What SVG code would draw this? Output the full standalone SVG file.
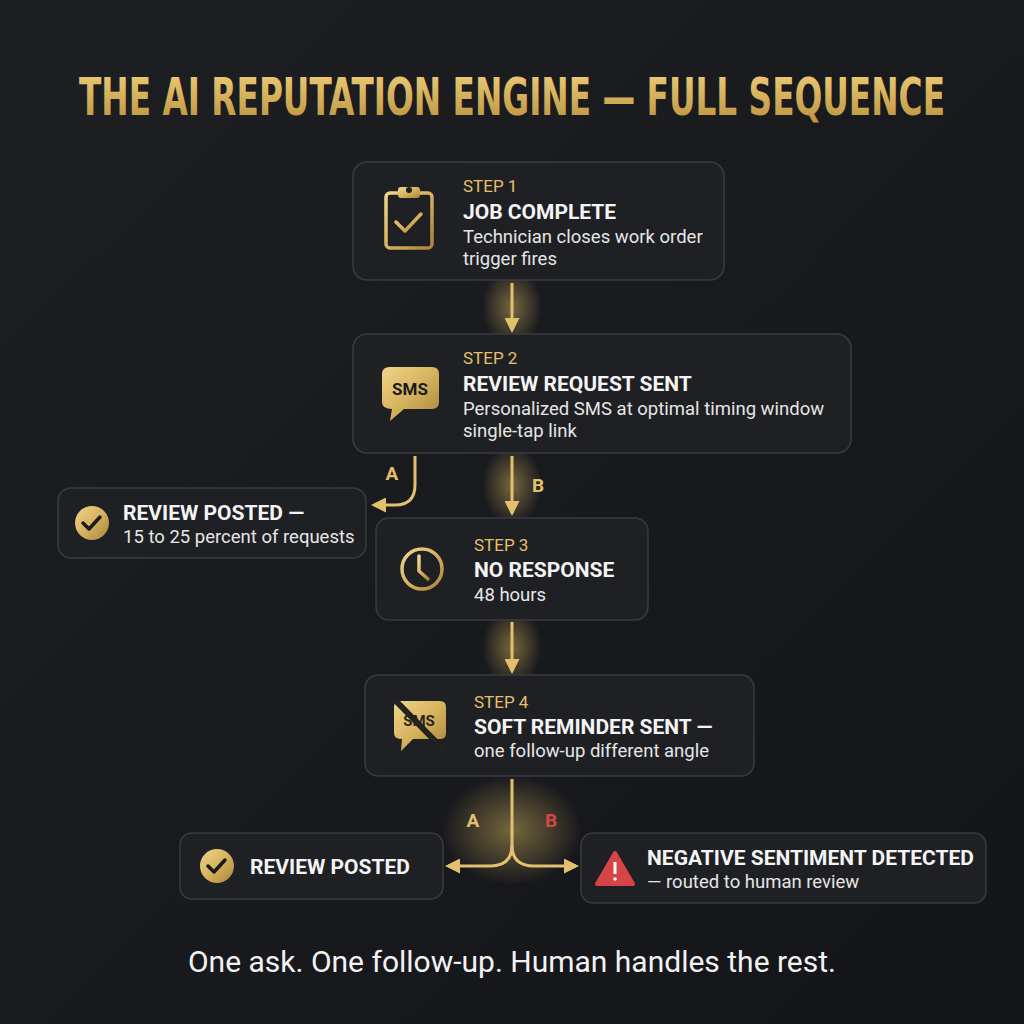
<svg xmlns="http://www.w3.org/2000/svg" width="1024" height="1024" viewBox="0 0 1024 1024">
<defs>
<linearGradient id="bg" x1="0" y1="0" x2="1" y2="1"><stop offset="0" stop-color="#1e1f23"/><stop offset="1" stop-color="#141518"/></linearGradient>
<linearGradient id="gold" x1="0" y1="0" x2="1" y2="1"><stop offset="0" stop-color="#f1d58a"/><stop offset="0.5" stop-color="#d6b35e"/><stop offset="1" stop-color="#a9843a"/></linearGradient>
<linearGradient id="title" x1="0" y1="0" x2="0" y2="1"><stop offset="0" stop-color="#f0d07a"/><stop offset="1" stop-color="#b98f3c"/></linearGradient>
<radialGradient id="glow"><stop offset="0" stop-color="#e8c567" stop-opacity="0.45"/><stop offset="1" stop-color="#e8c567" stop-opacity="0"/></radialGradient>
<marker id="ah" viewBox="0 0 10 10" refX="8" refY="5" markerWidth="5" markerHeight="5" orient="auto-start-reverse"><path d="M0,0 L10,5 L0,10 z" fill="#e3c06c"/></marker>
<style>
.box{fill:#1f2024;stroke:#3a3b40;stroke-width:1.5}
.step{font-family:Roboto,"Liberation Sans",sans-serif;font-size:17px;fill:#e3c06c}
.head{font-family:Roboto,"Liberation Sans",sans-serif;font-weight:bold;font-size:21px;fill:#f4f4f4}
.sub{font-family:Roboto,"Liberation Sans",sans-serif;font-size:18.5px;fill:#e6e6e6}
.lbl{font-family:Roboto,"Liberation Sans",sans-serif;font-weight:bold;font-size:19px;fill:#e3c06c}
.con{fill:none;stroke:#e3c06c;stroke-width:3;marker-end:url(#ah)}
.ic{fill:none;stroke:url(#gold);stroke-width:3.5;stroke-linecap:round;stroke-linejoin:round}
</style>
</defs>
<rect width="1024" height="1024" fill="url(#bg)"/>
<text x="512" y="115" text-anchor="middle" font-family="'DejaVu Sans Condensed','Liberation Sans Narrow',sans-serif" font-weight="bold" font-size="52" fill="url(#title)" textLength="866" lengthAdjust="spacingAndGlyphs">THE AI REPUTATION ENGINE — FULL SEQUENCE</text>

<g id="glows">
<ellipse cx="512" cy="307" rx="30" ry="40" fill="url(#glow)"/>
<ellipse cx="512" cy="485" rx="30" ry="40" fill="url(#glow)"/>
<ellipse cx="512" cy="647" rx="30" ry="40" fill="url(#glow)"/>
<ellipse cx="512" cy="830" rx="70" ry="55" fill="url(#glow)"/>
</g>

<g id="connectors">
<path class="con" d="M512,283 V330"/>
<path class="con" d="M512,456 V513"/>
<path class="con" d="M415,456 V485 Q415,505 395,505 H374"/>
<path class="con" d="M512,622 V671"/>
<path class="con" d="M512,779 V845 Q512,866 490,866 H448"/>
<path class="con" d="M512,845 Q512,866 534,866 H576"/>
<text class="lbl" x="392" y="480" text-anchor="middle">A</text>
<text class="lbl" x="538" y="492" text-anchor="middle">B</text>
<text class="lbl" x="473" y="827" text-anchor="middle">A</text>
<text class="lbl" x="551" y="827" text-anchor="middle" style="fill:#d64545">B</text>
</g>

<g id="step1">
<rect class="box" x="353" y="162" width="371" height="118" rx="14"/>
<rect class="ic" x="386" y="193" width="46" height="55" rx="4"/>
<rect x="398" y="187" width="22" height="11" rx="3" fill="url(#gold)"/>
<circle cx="409" cy="190" r="3" fill="#1f2024"/>
<path class="ic" d="M396,222 L405,231 L421,214"/>
<text class="step" x="463" y="192">STEP 1</text>
<text class="head" x="463" y="219">JOB COMPLETE</text>
<text class="sub" x="463" y="243">Technician closes work order</text>
<text class="sub" x="463" y="265">trigger fires</text>
</g>

<g id="step2">
<rect class="box" x="353" y="334" width="498" height="119" rx="14"/>
<path d="M390,367 H432 Q439,367 439,374 V402 Q439,409 432,409 H404 L390,421 L392,409 Q382,409 382,402 V374 Q382,367 390,367 Z" fill="url(#gold)"/>
<text x="410" y="395" text-anchor="middle" font-family="Roboto,'Liberation Sans',sans-serif" font-weight="bold" font-size="17" fill="#1a1a1a">SMS</text>
<text class="step" x="463" y="364">STEP 2</text>
<text class="head" x="463" y="391">REVIEW REQUEST SENT</text>
<text class="sub" x="463" y="415">Personalized SMS at optimal timing window</text>
<text class="sub" x="463" y="437">single-tap link</text>
</g>

<g id="review-posted-1">
<rect class="box" x="58" y="488" width="308" height="70" rx="13"/>
<circle cx="92" cy="523" r="17" fill="url(#gold)"/>
<path d="M83,523 L89,529 L100,517" fill="none" stroke="#1a1a1a" stroke-width="3.5" stroke-linecap="round" stroke-linejoin="round"/>
<text class="head" x="123" y="520">REVIEW POSTED —</text>
<text class="sub" x="123" y="543">15 to 25 percent of requests</text>
</g>

<g id="step3">
<rect class="box" x="376" y="518" width="272" height="102" rx="13"/>
<circle class="ic" cx="422" cy="569" r="20"/>
<path class="ic" d="M419,556 V571 L428,579"/>
<text class="step" x="474" y="551">STEP 3</text>
<text class="head" x="474" y="577">NO RESPONSE</text>
<text class="sub" x="474" y="601">48 hours</text>
</g>

<g id="step4">
<rect class="box" x="365" y="675" width="389" height="101" rx="13"/>
<path d="M400,701 H440 Q446,701 446,707 V733 Q446,739 440,739 H413 L401,751 L402,739 Q394,739 394,733 V707 Q394,701 400,701 Z" fill="url(#gold)"/>
<text x="419" y="726" text-anchor="middle" font-family="Roboto,'Liberation Sans',sans-serif" font-weight="bold" font-size="15" fill="#2a2418">SMS</text>
<path d="M393,698 L444,750" stroke="#1f2024" stroke-width="6"/>
<path d="M393,698 L444,750" stroke="#2a2418" stroke-width="2.5"/>
<text class="step" x="474" y="708">STEP 4</text>
<text class="head" x="474" y="734">SOFT REMINDER SENT —</text>
<text class="sub" x="474" y="757"> one follow-up different angle</text>
</g>

<g id="review-posted-2">
<rect class="box" x="180" y="833" width="263" height="66" rx="12"/>
<circle cx="217" cy="866" r="17" fill="url(#gold)"/>
<path d="M208,866 L214,872 L225,860" fill="none" stroke="#1a1a1a" stroke-width="3.5" stroke-linecap="round" stroke-linejoin="round"/>
<text class="head" x="250" y="874">REVIEW POSTED</text>
</g>

<g id="negative">
<rect class="box" x="581" y="833" width="405" height="70" rx="12"/>
<path d="M615,853 L633,884 H597 Z" fill="#d64545" stroke="#d64545" stroke-width="4" stroke-linejoin="round"/>
<rect x="613.5" y="862" width="3" height="12" fill="#fff"/>
<circle cx="615" cy="879" r="1.8" fill="#fff"/>
<text class="head" x="647" y="865">NEGATIVE SENTIMENT DETECTED</text>
<text class="sub" x="647" y="888">— routed to human review</text>
</g>

<text x="512" y="972" text-anchor="middle" font-family="Roboto,'Liberation Sans',sans-serif" font-size="30" fill="#f2f2f2">One ask. One follow-up. Human handles the rest.</text>
</svg>
